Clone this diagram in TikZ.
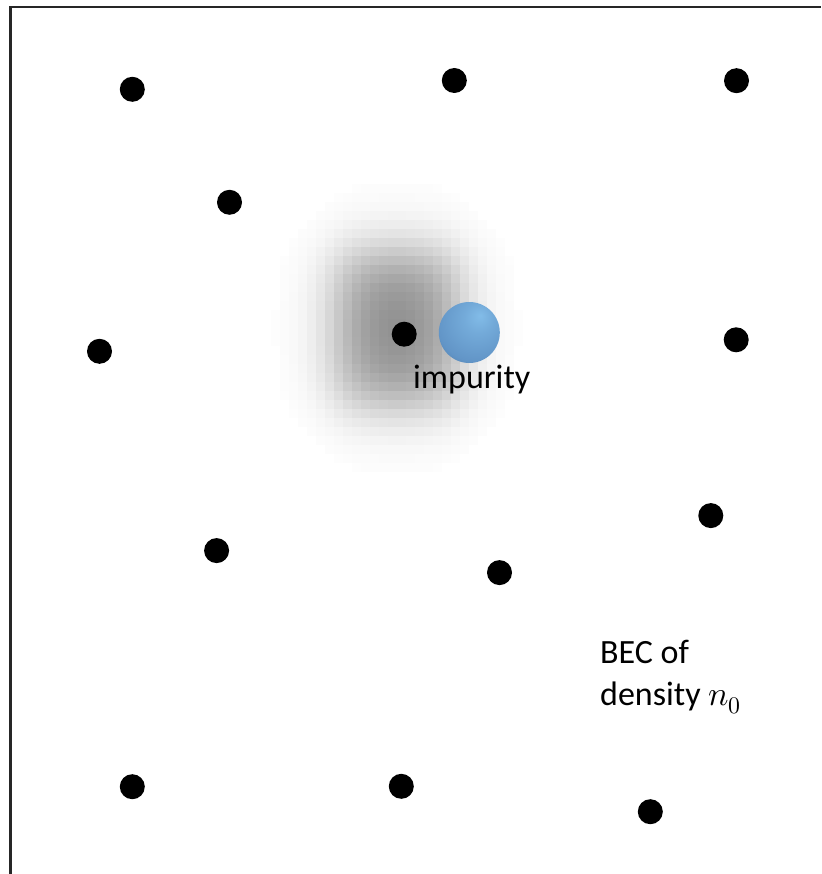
\documentclass[tikz,border=0pt]{standalone}
\usepackage{fontspec}
\usepackage{unicode-math}
\setmainfont{Carlito}
\setmathfont{Latin Modern Math}

% colours of the impurity sphere
\definecolor{ballhi}{HTML}{82BCE8}
\definecolor{ballmid}{HTML}{6295C7}
\definecolor{balldark}{HTML}{426E9A}
\definecolor{ballrim}{HTML}{2A4A6C}
\pgfdeclareradialshading{impball}{\pgfpoint{9bp}{14bp}}{%
  color(0bp)=(ballhi); color(12bp)=(ballhi!55!ballmid); color(32bp)=(ballmid);
  color(48bp)=(balldark); color(62bp)=(ballrim); color(80bp)=(ballrim)}

\tikzset{
  atom/.style={circle, fill=black, inner sep=0pt, minimum size=25pt},
  impurity/.style={circle, inner sep=0pt, minimum size=61pt, shading=impball},
  label/.style={inner sep=0pt, anchor=base west,
    font=\fontsize{34}{42}\selectfont},
  frame/.style={line width=2.6pt, draw=black!85}
}

\begin{document}
\begin{tikzpicture}[x=1pt,y=-1pt]
  \useasboundingbox (0,0) rectangle (821,874);

  % open frame: only the top and left edges are visible
  \draw[frame] (10.5,874) -- (10.5,7) -- (821,7);

  % blurred density dip around the impurity: a soft square of coarse gray cells
  \foreach \cx in {262,271,...,532}{
    \foreach \cy in {166,175,...,490}{
      \pgfmathsetmacro\gx{1/(1+exp((abs(\cx+4.5-397)-58)/16))}
      \pgfmathsetmacro\gy{1/(1+exp((abs(\cy+4.5-328)-74)/18))}
      \pgfmathsetmacro\dk{45*\gx*\gy}
      \pgfmathparse{\dk>0.8 ? 1 : 0}
      \ifnum\pgfmathresult=1
        \fill[black!\dk] (\cx,\cy) rectangle ++(9.4,9.4);
      \fi
    }
  }

  % condensate atoms
  \node[atom] (a1)  at (132.3,89.3)  {};
  \node[atom] (a2)  at (454.3,80.5)  {};
  \node[atom] (a3)  at (736.5,80.7)  {};
  \node[atom] (a4)  at (229.5,202.3) {};
  \node[atom] (a5)  at (99.5,351.3)  {};
  \node[atom] (a6)  at (404.2,334.2) {};
  \node[atom] (a7)  at (736.2,339.8) {};
  \node[atom] (a8)  at (710.8,515.6) {};
  \node[atom] (a9)  at (216.6,550.6) {};
  \node[atom] (a10) at (499.5,572.6) {};
  \node[atom] (a11) at (132.3,786.7) {};
  \node[atom] (a12) at (401.3,786.3) {};
  \node[atom] (a13) at (650.3,811.7) {};

  % the impurity
  \node[impurity] (imp) at (469.3,332.5) {};

  % labels
  \node[label] (implabel) at (413,388) {impurity};
  \node[label] (bec1) at (600,663) {BEC of};
  \node[label] (bec2) at (600,705) {density $n_0$};
\end{tikzpicture}
\end{document}
